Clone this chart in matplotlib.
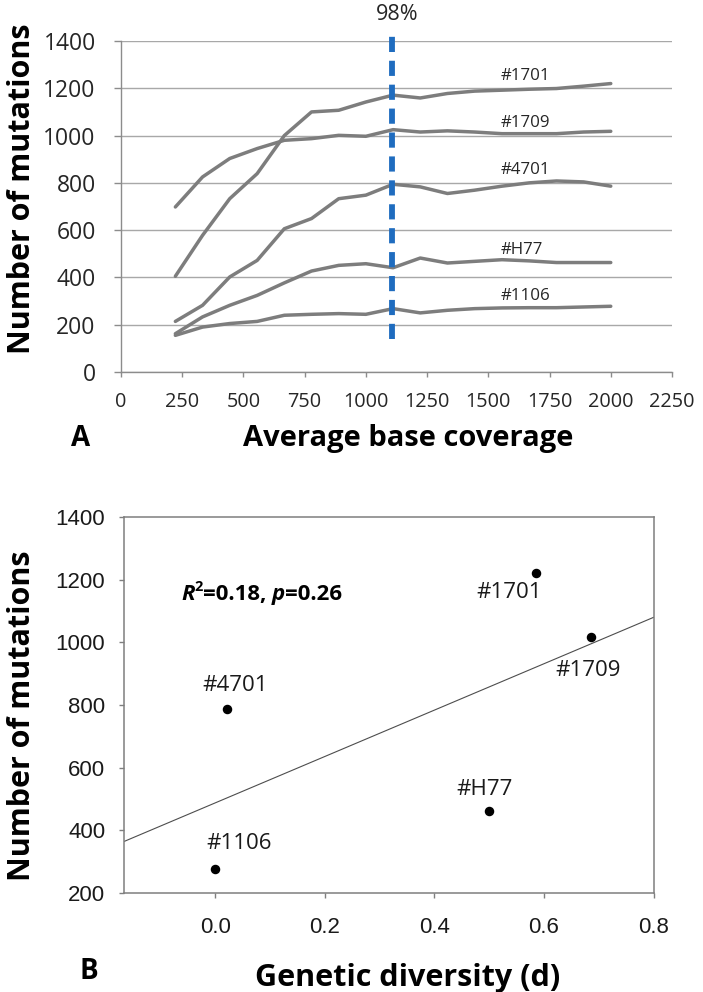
import matplotlib
matplotlib.use('Agg')
import matplotlib.pyplot as plt
import numpy as np

# --- Panel A: mutations vs average base coverage ---
coverage = [222, 333, 444, 556, 667, 778, 889, 1000, 1111, 1222, 1333,
            1444, 1556, 1667, 1778, 1889, 2000]
strains = ["#1701", "#1709", "#4701", "#H77", "#1106"]
mut_1701 = [405, 578, 733, 839, 1000, 1100, 1107, 1142, 1171, 1159, 1178,
            1188, 1192, 1196, 1199, 1209, 1220]
mut_1709 = [698, 825, 903, 945, 980, 987, 1001, 997, 1025, 1015, 1020,
            1015, 1008, 1008, 1008, 1015, 1018]
mut_4701 = [214, 282, 402, 472, 606, 649, 733, 748, 794, 783, 755,
            769, 786, 800, 808, 804, 786]
mut_H77 = [162, 233, 282, 324, 377, 427, 451, 458, 441, 482, 461,
           468, 475, 470, 463, 463, 463]
mut_1106 = [155, 190, 205, 214, 240, 244, 247, 244, 268, 250, 261,
            268, 271, 272, 272, 275, 278]
cov_98 = 1105
label_x_A = [1650, 1650, 1650, 1635, 1650]
label_y_A = [1250, 1053, 853, 518, 322]

# --- Panel B: mutations vs genetic diversity ---
diversity = [0.585, 0.685, 0.022, 0.500, 0.000]
mutations = [1220, 1018, 786, 463, 278]
label_offsets_B = [(-19, -14), (-2, -24), (5.5, 17), (-3.5, 15), (17, 18)]

SANS = 'Open Sans'
GREY = '#7d7d7d'
AXC = '#8c8c8c'

fig = plt.figure(figsize=(7.03, 9.92), dpi=100)
W, H = 703, 992

axA = fig.add_axes([121 / W, 1 - 372 / H, 551 / W, 331 / H])
for vals in [mut_1701, mut_1709, mut_4701, mut_H77, mut_1106]:
    axA.plot(coverage, vals, color=GREY, lw=2.5, solid_capstyle='round',
             solid_joinstyle='round', zorder=3)
axA.plot([cov_98, cov_98], [140, 1445], color='#1f6cbf', lw=4.2,
         dashes=(2.6, 1.5), clip_on=False, zorder=4)
axA.text(1127, 1514, '98%', ha='center', va='center', fontsize=15.5,
         family=SANS, color='#262626')
for name, lx, ly in zip(strains, label_x_A, label_y_A):
    axA.text(lx, ly, name, ha='center', va='center', fontsize=12.2,
             family=SANS, color='#262626')

axA.set_xlim(0, 2250)
axA.set_ylim(0, 1400)
axA.set_xticks(np.arange(0, 2251, 250))
axA.set_yticks(np.arange(0, 1401, 200))
axA.yaxis.grid(True, color='#a8a8a8', lw=1.0)
axA.set_axisbelow(True)
for s in ['top', 'right']:
    axA.spines[s].set_visible(False)
for s in ['left', 'bottom']:
    axA.spines[s].set_color(AXC)
    axA.spines[s].set_linewidth(1.0)
axA.tick_params(axis='y', direction='out', length=5.2, width=1.0, color=AXC,
                pad=13, labelsize=16.5, labelcolor='#262626')
axA.tick_params(axis='x', direction='out', length=3.6, width=1.0, color=AXC,
                pad=11, labelsize=14.3, labelcolor='#262626')
for lab in axA.get_xticklabels() + axA.get_yticklabels():
    lab.set_family(SANS)

# --- Panel B ---
axB = fig.add_axes([124 / W, 1 - 893 / H, 529.5 / W, 376 / H])
slope, intercept = np.polyfit(diversity, mutations, 1)
xs = np.array([-0.167, 0.8])
axB.plot(xs, slope * xs + intercept, color='#4d4d4d', lw=0.8, zorder=2)
axB.scatter(diversity, mutations, s=34, color='black', zorder=3, clip_on=False)
for name, x, y, off in zip(strains, diversity, mutations, label_offsets_B):
    axB.annotate(name, xy=(x, y), xytext=off, textcoords='offset points',
                 ha='center', va='center', fontsize=16, family=SANS,
                 color='#1a1a1a')

# R^2 / p annotation built from pieces (bold, italic symbols)
kw = dict(fontsize=16, fontweight='bold', family=SANS, color='black')
t_r = axB.text(0.108, 0.793, 'R', transform=axB.transAxes, va='center',
               ha='left', fontstyle='italic', **kw)
t_2 = axB.annotate('2', xy=(1.0, 0.55), xycoords=t_r, va='bottom', ha='left',
                   fontsize=10.5, fontweight='bold', family=SANS)
t_eq = axB.annotate('=0.18,', xy=(1.0, 0.0), xycoords=(t_2, t_r),
                    va='bottom', ha='left', **kw)
t_p = axB.annotate('p', xy=(1.0, 0.0), xycoords=t_eq, xytext=(4, 0),
                   textcoords='offset points', va='bottom', ha='left',
                   fontstyle='italic', **kw)
axB.annotate('=0.26', xy=(1.0, 0.0), xycoords=t_p, va='bottom', ha='left', **kw)

axB.set_xlim(-0.167, 0.8)
axB.set_ylim(200, 1400)
axB.set_xticks([0.0, 0.2, 0.4, 0.6, 0.8])
axB.set_xticklabels(['0.0', '0.2', '0.4', '0.6', '0.8'])
axB.set_yticks(np.arange(200, 1401, 200))
for s in axB.spines.values():
    s.set_color('#7f7f7f')
    s.set_linewidth(1.1)
axB.tick_params(axis='both', direction='out', length=3.5, width=1.0,
                color='#7f7f7f', labelsize=16, labelcolor='#1a1a1a')
axB.tick_params(axis='y', pad=10)
axB.tick_params(axis='x', pad=14)
for lab in axB.get_xticklabels() + axB.get_yticklabels():
    lab.set_family('Liberation Sans')

# axis titles and panel letters
bold = dict(fontweight='bold', family=SANS, color='black')
fig.text(22 / W, 1 - 189 / H, 'Number of mutations', rotation=90,
         ha='center', va='center', fontsize=22, **bold)
fig.text(408 / W, 1 - 446 / H, 'Average base coverage', ha='center',
         va='baseline', fontsize=21, **bold)
fig.text(81 / W, 1 - 446 / H, 'A', ha='center', va='baseline', fontsize=20, **bold)
fig.text(22 / W, 1 - 716 / H, 'Number of mutations', rotation=90,
         ha='center', va='center', fontsize=22, **bold)
fig.text(408 / W, 1 - 986 / H, 'Genetic diversity (d)', ha='center',
         va='baseline', fontsize=22, **bold)
fig.text(89 / W, 1 - 979 / H, 'B', ha='center', va='baseline', fontsize=20, **bold)

fig.savefig('out.png', dpi=100, facecolor='white')
plt.close(fig)
